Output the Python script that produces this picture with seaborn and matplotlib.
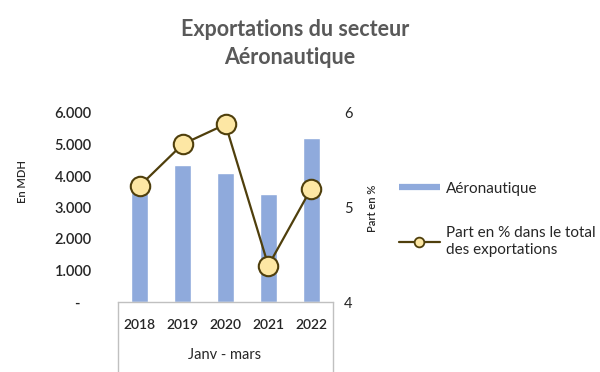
import matplotlib
matplotlib.use("Agg")
import matplotlib.pyplot as plt
import seaborn as sns
import pandas as pd
from matplotlib.lines import Line2D

years = ["2018", "2019", "2020", "2021", "2022"]
exports = [3600, 4350, 4100, 3430, 5220]
part = [5.23, 5.67, 5.88, 4.385, 5.20]
left_ticks = [0, 1000, 2000, 3000, 4000, 5000, 6000]
left_labels = ["-   ", "1.000", "2.000", "3.000", "4.000", "5.000", "6.000"]
right_ticks = [4, 5, 6]

sns.set_theme(style="white")
plt.rcParams["font.family"] = ["Lato", "DejaVu Sans"]

bar_color = "#8faadc"
line_color = "#4f3f0c"
face_color = "#fde7a4"
grid_gray = "#c0c0c0"
text_dark = "#262626"

df = pd.DataFrame({"year": years, "exports": exports, "part": part})

fig = plt.figure(figsize=(6.0, 3.72), dpi=100)
ax = fig.add_axes([118 / 600, 1 - 302 / 372, 215 / 600, 189 / 372])

sns.barplot(data=df, x="year", y="exports", color=bar_color, width=0.39,
            saturation=1, ax=ax)
ax.set_ylim(0, 6000)
ax.set_xlim(-0.51, 4.51)
ax.set_yticks(left_ticks)
ax.set_yticklabels(left_labels)
ax.tick_params(axis="y", length=0, pad=19, labelsize=10.5, labelcolor=text_dark)
for t in ax.get_yticklabels():
    t.set_fontweight("semibold")
ax.tick_params(axis="x", length=0, pad=12, labelsize=10, labelcolor=text_dark)
for t in ax.get_xticklabels():
    t.set_fontweight("semibold")
ax.set_xlabel("")
ax.set_ylabel("")
for s in ["top", "left", "right"]:
    ax.spines[s].set_visible(False)
ax.spines["bottom"].set_color(grid_gray)
ax.spines["bottom"].set_linewidth(1)

ax2 = ax.twinx()
sns.pointplot(data=df, x="year", y="part", color=line_color, markers="o",
              linestyles="-", ax=ax2)
for ln in ax2.lines:
    ln.set_markerfacecolor(face_color)
    ln.set_markeredgecolor(line_color)
    ln.set_markersize(14)
    ln.set_markeredgewidth(1.5)
    ln.set_linewidth(1.6)
    ln.set_color(line_color)
    ln.set_markerfacecolor(face_color)
ax2.set_ylim(4, 6)
ax2.set_xlim(-0.51, 4.51)
ax2.set_yticks(right_ticks)
ax2.set_yticklabels([str(v) for v in right_ticks])
ax2.tick_params(axis="y", length=0, pad=8, labelsize=10.5, labelcolor=text_dark)
ax2.set_ylabel("")
ax2.set_xlabel("")
for s in ["top", "left", "right", "bottom"]:
    ax2.spines[s].set_visible(False)

# category box below the axis
for xp in (118 / 600, 333 / 600):
    fig.add_artist(Line2D([xp, xp], [0, 1 - 302 / 372], color=grid_gray, lw=1))
fig.text(225 / 600, 1 - 355 / 372, "Janv - mars", ha="center", va="center",
         fontsize=10.5, color=text_dark)

fig.text(22 / 600, 1 - 182 / 372, "En MDH", rotation=90, ha="center", va="center",
         fontsize=8, fontweight="semibold", color=text_dark)
fig.text(372 / 600, 1 - 208 / 372, "Part en %", rotation=90, ha="center", va="center",
         fontsize=8, fontweight="semibold", color=text_dark)

fig.text(295 / 600, 1 - 30 / 372, "Exportations du secteur", ha="center", va="center",
         fontsize=15.5, fontweight="bold", color="#595959")
fig.text(290 / 600, 1 - 58 / 372, "Aéronautique", ha="center", va="center",
         fontsize=15.5, fontweight="bold", color="#595959")

handles = [
    Line2D([], [], color=bar_color, lw=4.5, solid_capstyle="butt"),
    Line2D([], [], color=line_color, lw=1.6, marker="o", markersize=7,
           markerfacecolor=face_color, markeredgecolor=line_color, markeredgewidth=1.3),
]
labels = ["Aéronautique", "Part en % dans le total\ndes exportations"]
leg = fig.legend(handles, labels, loc="upper left",
                 bbox_to_anchor=(385 / 600, 1 - 168 / 372), frameon=False,
                 fontsize=11, handlelength=2.7, handletextpad=0.4,
                 labelspacing=2.0, labelcolor=text_dark)

fig.savefig("out.png", dpi=100)
